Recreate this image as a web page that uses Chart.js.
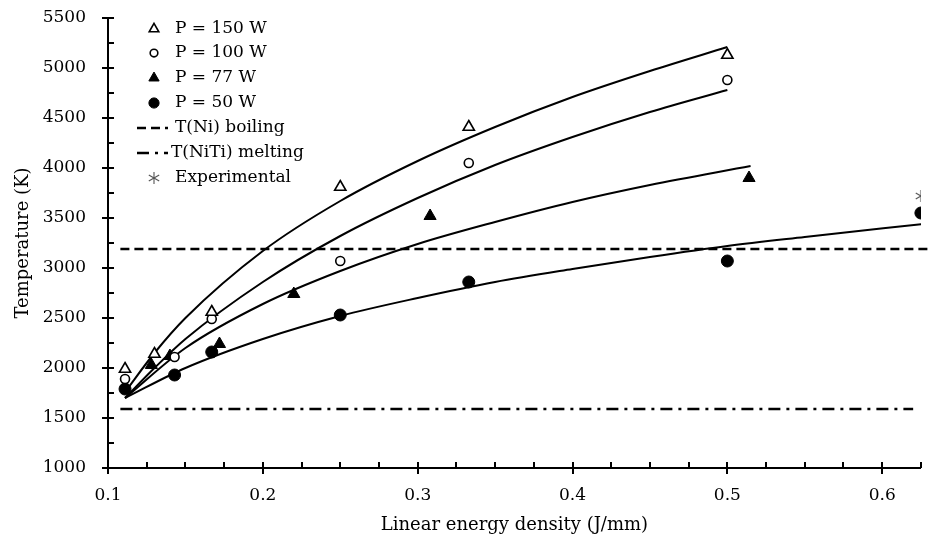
<!DOCTYPE html>
<html>
<head>
<meta charset="utf-8">
<script src="https://cdn.jsdelivr.net/npm/chart.js@4/dist/chart.umd.min.js"></script>
<style>
  html, body { margin: 0; padding: 0; background: #fff; }
</style>
</head>
<body>
<canvas id="chart" width="929" height="542"></canvas>
<script>
// ---- data ----
const xTicks = [0.1, 0.2, 0.3, 0.4, 0.5, 0.6];
const yTicks = [1000, 1500, 2000, 2500, 3000, 3500, 4000, 4500, 5000, 5500];

// measured points
const x150 = [0.111, 0.130, 0.167, 0.25, 0.333, 0.5];
const t150 = [1990, 2140, 2560, 3810, 4410, 5130];
const x100 = [0.111, 0.143, 0.167, 0.25, 0.333, 0.5];
const t100 = [1890, 2110, 2490, 3070, 4050, 4880];
const x77  = [0.128, 0.140, 0.172, 0.22, 0.308, 0.514];
const t77  = [2030, 2120, 2240, 2740, 3520, 3900];
const x50  = [0.111, 0.143, 0.167, 0.25, 0.333, 0.5, 0.625];
const t50  = [1790, 1930, 2160, 2530, 2860, 3070, 3550];
const xExp = [0.625];
const tExp = [3720];

// fitted curves
const fitX150 = [0.111, 0.13, 0.15, 0.2, 0.25, 0.3, 0.35, 0.4, 0.45, 0.5];
const fitT150 = [1760, 2150, 2500, 3170, 3670, 4070, 4410, 4710, 4970, 5210];
const fitX100 = [0.111, 0.13, 0.15, 0.2, 0.25, 0.3, 0.35, 0.4, 0.45, 0.5];
const fitT100 = [1700, 2000, 2290, 2860, 3320, 3700, 4030, 4310, 4560, 4780];
const fitX77  = [0.111, 0.15, 0.2, 0.25, 0.3, 0.35, 0.4, 0.45, 0.515];
const fitT77  = [1700, 2200, 2640, 2970, 3240, 3460, 3660, 3830, 4020];
const fitX50  = [0.111, 0.15, 0.2, 0.25, 0.3, 0.35, 0.4, 0.45, 0.5, 0.55, 0.626];
const fitT50  = [1700, 2000, 2290, 2520, 2700, 2860, 2990, 3110, 3220, 3310, 3440];

// reference temperatures
const boilX = [0.108, 0.63];
const tNiBoiling = 3190;
const meltX = [0.108, 0.62];
const tNiTiMelting = 1590;

const FONT = 'DejaVu Serif';
const pts = (xs, ys) => xs.map((x, i) => ({ x, y: ys[i] }));

// 6-armed asterisk for the experimental point
function asterisk(r) {
  const c = document.createElement('canvas');
  c.width = c.height = 2 * r + 2;
  const g = c.getContext('2d');
  g.strokeStyle = '#555'; g.lineWidth = 1.1;
  [90, 30, 150].forEach(a => {
    const dx = Math.cos(a * Math.PI / 180) * r, dy = Math.sin(a * Math.PI / 180) * r;
    g.beginPath(); g.moveTo(r + 1 - dx, r + 1 - dy); g.lineTo(r + 1 + dx, r + 1 + dy); g.stroke();
  });
  return c;
}
const starImg = asterisk(6);

function fitLine(data) {
  return { data, showLine: true, borderColor: '#000', borderWidth: 2, pointRadius: 0,
           tension: 0.4, cubicInterpolationMode: 'monotone', fill: false };
}
function refLine(xs, t, dash) {
  return { data: xs.map(x => ({ x, y: t })), showLine: true, borderColor: '#000', borderWidth: 2.5,
           borderDash: dash, pointRadius: 0, fill: false, clip: false };
}

const datasets = [
  { label: 'P = 150 W', data: pts(x150, t150), pointStyle: 'triangle', pointRadius: 6.5,
    backgroundColor: '#fff', borderColor: '#000', pointBorderWidth: 1.6, showLine: false },
  { label: 'P = 100 W', data: pts(x100, t100), pointStyle: 'circle', pointRadius: 4.5,
    backgroundColor: '#fff', borderColor: '#000', pointBorderWidth: 1.6, showLine: false },
  { label: 'P = 77 W', data: pts(x77, t77), pointStyle: 'triangle', pointRadius: 7,
    backgroundColor: '#000', borderColor: '#000', pointBorderWidth: 1, showLine: false },
  { label: 'P = 50 W', data: pts(x50, t50), pointStyle: 'circle', pointRadius: 6,
    backgroundColor: '#000', borderColor: '#000', pointBorderWidth: 1, showLine: false },
  Object.assign(refLine(boilX, tNiBoiling, [9, 5]), { label: 'T(Ni) boiling' }),
  Object.assign(refLine(meltX, tNiTiMelting, [12, 6, 3, 6]), { label: 'T(NiTi) melting' }),
  { label: 'Experimental', data: pts(xExp, tExp), pointStyle: starImg, pointRadius: 6, showLine: false },
  Object.assign(fitLine(pts(fitX150, fitT150)), { label: '' }),
  Object.assign(fitLine(pts(fitX100, fitT100)), { label: '' }),
  Object.assign(fitLine(pts(fitX77, fitT77)), { label: '' }),
  Object.assign(fitLine(pts(fitX50, fitT50)), { label: '' }),
];

// legend drawn inside the plot, top-left
const legendPlugin = {
  id: 'insideLegend',
  afterDraw(chart) {
    const ctx = chart.ctx;
    const rows = [29, 53, 78, 103, 128, 153, 178];
    ctx.save();
    ctx.font = '17px "' + FONT + '"';
    ctx.textBaseline = 'middle';
    ctx.fillStyle = '#000';
    for (let i = 0; i < 7; i++) {
      const ds = chart.data.datasets[i];
      const y = rows[i], mx = 154;
      ctx.setLineDash([]);
      if (ds.showLine) {
        ctx.strokeStyle = '#000'; ctx.lineWidth = 2.5;
        ctx.setLineDash(ds.borderDash);
        ctx.beginPath(); ctx.moveTo(137, y); ctx.lineTo(168, y); ctx.stroke();
        ctx.setLineDash([]);
      } else if (ds.pointStyle === 'triangle') {
        const r = ds.pointRadius * 0.85;
        ctx.beginPath();
        ctx.moveTo(mx, y - r);
        ctx.lineTo(mx + r * 0.866, y + r * 0.5);
        ctx.lineTo(mx - r * 0.866, y + r * 0.5);
        ctx.closePath();
        ctx.fillStyle = ds.backgroundColor; ctx.fill();
        ctx.strokeStyle = '#000'; ctx.lineWidth = ds.pointBorderWidth; ctx.stroke();
      } else if (ds.pointStyle === 'circle') {
        ctx.beginPath(); ctx.arc(mx, y, ds.pointRadius * 0.85, 0, Math.PI * 2);
        ctx.fillStyle = ds.backgroundColor; ctx.fill();
        ctx.strokeStyle = '#000'; ctx.lineWidth = ds.pointBorderWidth; ctx.stroke();
      } else {
        ctx.drawImage(starImg, mx - starImg.width / 2, y - starImg.height / 2);
      }
      ctx.fillStyle = '#000';
      ctx.fillText(ds.label, i === 5 ? 171 : 175, y);
    }
    ctx.restore();
  }
};

// tick marks crossing the axes (major both sides, minor inside)
const tickPlugin = {
  id: 'axisTicks',
  afterDraw(chart) {
    const { ctx, scales: { x, y }, chartArea: a } = chart;
    ctx.save();
    ctx.strokeStyle = '#000'; ctx.lineWidth = 2;
    for (let v = 1000; v <= 5500; v += 250) {
      const py = Math.round(y.getPixelForValue(v));
      const major = v % 500 === 0;
      ctx.beginPath(); ctx.moveTo(a.left - (major ? 6 : 0), py); ctx.lineTo(a.left + 6, py); ctx.stroke();
    }
    for (let i = 0; i <= 21; i++) {
      const v = 0.1 + i * 0.025;
      const px = Math.round(x.getPixelForValue(v));
      const major = i % 4 === 0;
      ctx.beginPath(); ctx.moveTo(px, a.bottom - 6); ctx.lineTo(px, a.bottom + (major ? 6 : 0)); ctx.stroke();
    }
    ctx.restore();
  }
};

new Chart(document.getElementById('chart'), {
  type: 'scatter',
  data: { datasets },
  options: {
    responsive: false,
    animation: false,
    devicePixelRatio: 1,
    layout: { padding: { top: 18, right: 5, left: 0, bottom: 0 } },
    plugins: { legend: { display: false }, tooltip: { enabled: false } },
    scales: {
      x: {
        type: 'linear', min: 0.1, max: 0.625,
        afterBuildTicks: s => { s.ticks = xTicks.map(v => ({ value: v })); },
        afterFit: s => { s.height = 74; s.paddingLeft = 0; s.paddingRight = 0; },
        grid: { display: false, drawTicks: false },
        border: { display: true, color: '#000', width: 2 },
        ticks: { color: '#000', padding: 17, font: { family: FONT, size: 17 },
                 callback: v => String(v) },
        title: { display: true, text: 'Linear energy density (J/mm)', color: '#000',
                 font: { family: FONT, size: 18 }, padding: { top: 8, bottom: 6 } }
      },
      y: {
        type: 'linear', min: 1000, max: 5500,
        afterBuildTicks: s => { s.ticks = yTicks.map(v => ({ value: v })); },
        afterFit: s => { s.width = 108; s.paddingTop = 0; s.paddingBottom = 0; },
        grid: { display: false, drawTicks: false },
        border: { display: true, color: '#000', width: 2 },
        ticks: { color: '#000', padding: 22, font: { family: FONT, size: 17 },
                 callback: v => String(v) },
        title: { display: true, text: 'Temperature (K)', color: '#000',
                 font: { family: FONT, size: 18 }, padding: { top: 13, bottom: 0 } }
      }
    }
  },
  plugins: [legendPlugin, tickPlugin]
});
</script>
</body>
</html>
